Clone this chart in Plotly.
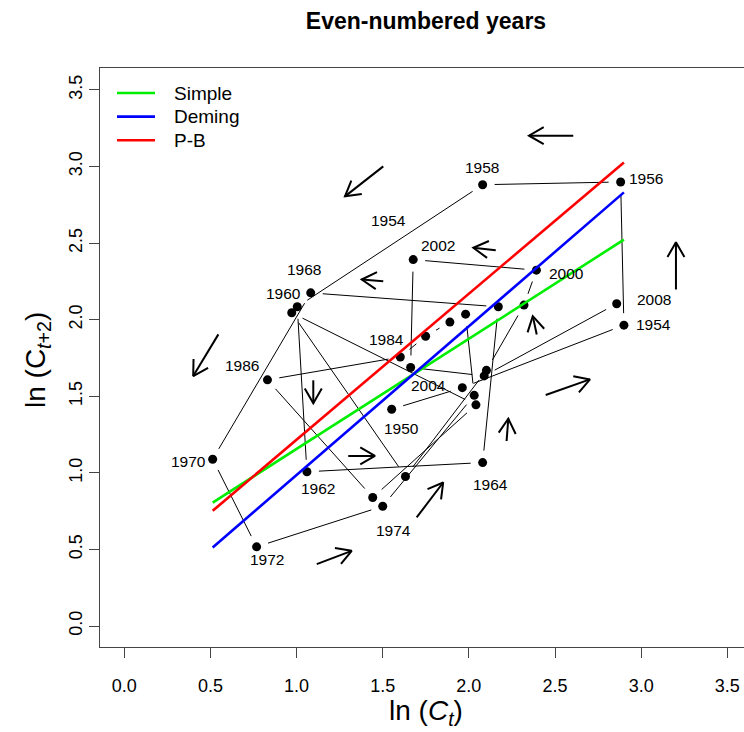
import numpy as np
import plotly.graph_objects as go

# ---------------- data ----------------
years = list(range(1950, 2010, 2))
ln_ct = [1.552, 1.962, 2.900, 2.881, 2.080, 1.004, 1.060, 2.080, 2.171, 1.082,
         0.513, 0.768, 1.500, 2.031, 1.981, 1.890, 1.749, 1.602, 0.831, 1.442,
         2.041, 0.972, 1.632, 2.102, 2.320, 2.392, 1.677, 1.662, 2.089, 2.858]
ln_ct2 = [1.415, 1.556, 1.964, 2.899, 2.881, 2.084, 1.007, 1.067, 2.084, 2.175,
          1.089, 0.517, 0.782, 1.506, 2.036, 1.984, 1.892, 1.756, 1.607, 0.839,
          1.444, 2.045, 0.976, 1.669, 2.095, 2.323, 2.392, 1.688, 1.633, 2.104]

fit_names = ["Simple", "Deming", "P-B"]
fit_intercepts = [0.437, 0.015, 0.263]
fit_slopes = [0.719, 0.971, 0.953]

label_years = [1958, 1956, 2002, 2000, 1968, 1960, 2008, 1954, 1984, 1986,
               2004, 1950, 1970, 1962, 1964, 1974, 1972]
free_label_text = "1954"
free_label_xy = (1.532, 2.649)

# direction arrows (tail -> head) in data units
arrow_tail_x = [2.606, 1.503, 1.503, 2.156, 3.202, 2.394, 0.546, 1.097, 1.300, 1.117, 1.697, 2.219, 2.446]
arrow_tail_y = [3.201, 3.001, 2.251, 2.453, 2.197, 1.903, 1.904, 1.604, 1.110, 0.404, 0.709, 1.208, 1.508]
arrow_head_x = [2.349, 1.281, 1.378, 2.026, 3.202, 2.371, 0.400, 1.097, 1.455, 1.320, 1.851, 2.229, 2.703]
arrow_head_y = [3.201, 2.805, 2.262, 2.469, 2.505, 2.023, 1.632, 1.454, 1.110, 0.491, 0.937, 1.354, 1.610]

x_ticks = [0.0, 0.5, 1.0, 1.5, 2.0, 2.5, 3.0, 3.5]
y_ticks = [0.0, 0.5, 1.0, 1.5, 2.0, 2.5, 3.0, 3.5]

# ---------------- styles / layout geometry ----------------
FONT = "Liberation Sans, Arial, sans-serif"
W, H = 744, 732
ML, MR, MT, MB = 100, 0, 68, 85
plot_w, plot_h = W - ML - MR, H - MT - MB
xr = [-0.141, 3.597]
yr = [-0.137, 3.643]
sx = plot_w / (xr[1] - xr[0])
sy = plot_h / (yr[1] - yr[0])
fit_colors = ["#00ee00", "#0000ff", "#ff0000"]
label_offsets = {  # pixel offsets (dx, dy up) of labels from their point
    1958: (-1, 17), 1956: (25, 3), 2002: (25, 14), 2000: (30, -3),
    1968: (-7, 23), 1960: (-14, 13), 2008: (37, 4), 1954: (30, 1),
    1984: (-14, 18), 1986: (-25, 14), 2004: (18, -18), 1950: (10, -19),
    1970: (-24, -2), 1962: (11, -17), 1964: (8, -22), 1974: (11, -24),
    1972: (10, -13),
}
GAP = 12      # px gap between point and connecting line (R type="b")
BARB = 17     # arrow head barb length in px
# legend box geometry in pixels
LEG_X0, LEG_X1, LEG_TX = 117, 155, 172
LEG_Y0, LEG_DY = 93, 23.6

def to_px(x, y):
    return (x - xr[0]) * sx, (y - yr[0]) * sy

def to_data(px, py):
    return px / sx + xr[0], py / sy + yr[0]

def paper_x(px):
    return (px - ML) / plot_w

def paper_y(py):
    return (H - MB - py) / plot_h

fig = go.Figure()

# connecting segments with gaps
seg_x, seg_y = [], []
for i in range(len(years) - 1):
    p0 = np.array(to_px(ln_ct[i], ln_ct2[i]))
    p1 = np.array(to_px(ln_ct[i + 1], ln_ct2[i + 1]))
    d = np.linalg.norm(p1 - p0)
    if d <= 2 * GAP:
        continue
    u = (p1 - p0) / d
    a = p0 + u * GAP
    b = p1 - u * GAP
    ax_, ay_ = to_data(*a)
    bx_, by_ = to_data(*b)
    seg_x += [ax_, bx_, None]
    seg_y += [ay_, by_, None]
fig.add_trace(go.Scatter(x=seg_x, y=seg_y, mode="lines",
                         line=dict(color="black", width=1), showlegend=False,
                         hoverinfo="skip"))

# points
fig.add_trace(go.Scatter(x=ln_ct, y=ln_ct2, mode="markers", text=years,
                         marker=dict(color="black", size=9), showlegend=False,
                         hovertemplate="%{text}<extra></extra>"))

# arrows
arr_x, arr_y = [], []
for tx, ty, hx, hy in zip(arrow_tail_x, arrow_tail_y, arrow_head_x, arrow_head_y):
    t = np.array(to_px(tx, ty))
    h = np.array(to_px(hx, hy))
    v = (t - h) / np.linalg.norm(t - h)
    pts = []
    for ang in (np.radians(30), -np.radians(30)):
        c, s = np.cos(ang), np.sin(ang)
        r = np.array([c * v[0] - s * v[1], s * v[0] + c * v[1]])
        pts.append(h + r * BARB)
    arr_x += [tx, hx, None]
    arr_y += [ty, hy, None]
    b1 = to_data(*pts[0]); b2 = to_data(*pts[1])
    arr_x += [b1[0], hx, b2[0], None]
    arr_y += [b1[1], hy, b2[1], None]
fig.add_trace(go.Scatter(x=arr_x, y=arr_y, mode="lines",
                         line=dict(color="black", width=2), showlegend=False,
                         hoverinfo="skip"))

# fitted lines
xmin, xmax = min(ln_ct), max(ln_ct)
for name, a, b, col in zip(fit_names, fit_intercepts, fit_slopes, fit_colors):
    fig.add_trace(go.Scatter(x=[xmin, xmax], y=[a + b * xmin, a + b * xmax],
                             mode="lines", name=name, showlegend=False,
                             line=dict(color=col, width=2.6)))

# year labels
annotations = []
for yr_ in label_years:
    i = years.index(yr_)
    dx, dy = label_offsets[yr_]
    annotations.append(dict(x=ln_ct[i], y=ln_ct2[i], text=str(yr_), showarrow=False,
                            xshift=dx, yshift=dy, xanchor="center", yanchor="middle",
                            font=dict(size=15.5, color="black", family=FONT)))
annotations.append(dict(x=free_label_xy[0], y=free_label_xy[1], text=free_label_text,
                        showarrow=False, xanchor="center", yanchor="middle",
                        font=dict(size=15.5, color="black", family=FONT)))

# legend (drawn as in R's legend(): line samples + labels)
shapes = []
for k, (name, col) in enumerate(zip(fit_names, fit_colors)):
    yy = paper_y(LEG_Y0 + k * LEG_DY)
    shapes.append(dict(type="line", xref="paper", yref="paper",
                       x0=paper_x(LEG_X0), x1=paper_x(LEG_X1), y0=yy, y1=yy,
                       line=dict(color=col, width=2.6)))
    annotations.append(dict(xref="paper", yref="paper", x=paper_x(LEG_TX), y=yy,
                            text=name, showarrow=False, xanchor="left", yanchor="middle",
                            font=dict(size=19, color="black", family=FONT)))

# axis titles
annotations.append(dict(xref="paper", yref="paper", x=paper_x(426),
                        y=paper_y(712), text="ln (<i>C</i><sub><i>t</i></sub>)",
                        showarrow=False, xanchor="center", yanchor="middle",
                        font=dict(size=28, color="black", family=FONT)))
annotations.append(dict(xref="paper", yref="paper", x=paper_x(37),
                        y=paper_y(360), text="ln (C<sub><i>t</i>+2</sub>)",
                        showarrow=False, xanchor="center", yanchor="middle", textangle=-90,
                        font=dict(size=28, color="black", family=FONT)))

axis_common = dict(showgrid=False, zeroline=False, showline=True, linecolor="#444",
                   linewidth=1.3, ticks="outside", ticklen=10, tickwidth=1,
                   tickcolor="#444", tickfont=dict(size=18, color="black", family=FONT))

fig.update_layout(
    width=W, height=H, margin=dict(l=ML, r=MR, t=MT, b=MB, autoexpand=False),
    paper_bgcolor="white", plot_bgcolor="white", showlegend=False,
    title=dict(text="<b>Even-numbered years</b>", x=paper_x(426), xref="paper",
               y=1 - 21 / H, yref="container", xanchor="center", yanchor="middle",
               font=dict(size=23, color="black", family=FONT)),
    xaxis=dict(range=xr, tickvals=x_ticks, ticktext=[f"{v:.1f}" for v in x_ticks],
               mirror=True, ticklabelstandoff=12, **axis_common),
    yaxis=dict(range=yr, tickvals=y_ticks, ticktext=[f"{v:.1f}" for v in y_ticks],
               mirror=False, tickangle=-90, ticklabelstandoff=0, **axis_common),
    shapes=shapes,
    annotations=annotations,
    font=dict(family=FONT),
)

fig.write_html("out.html")
